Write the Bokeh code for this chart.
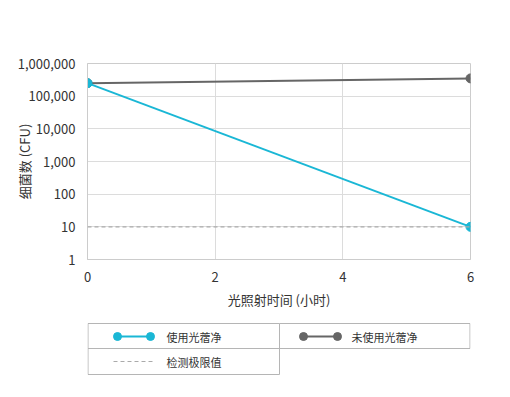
from bokeh.plotting import figure
from bokeh.layouts import column
from bokeh.models import Range1d, FixedTicker, NumeralTickFormatter, Span, ColumnDataSource
from bokeh.embed import file_html
from bokeh.resources import INLINE
from bokeh.core.properties import value

# ---- data ----
hours = [0, 6]
with_light = [250000, 10]
without_light = [250000, 350000]
detection_limit = 10
x_ticks = [0, 2, 4, 6]
y_ticks = [1, 10, 100, 1000, 10000, 100000, 1000000]
series_names = ["使用光蓿净", "未使用光蓿净", "检测极限值"]
x_title = "光照射时间 (小时)"
y_title = "细菌数 (CFU)"

FONT = "Noto Sans CJK SC"
CYAN = "#1ab7d5"
GRAY = "#666666"
GRID = "#dcdcdc"
TEXT = "#333333"

p = figure(width=510, height=320, y_axis_type="log",
           x_range=Range1d(0, 6), y_range=Range1d(1, 1e6),
           output_backend="svg", toolbar_location=None,
           min_border_left=87, min_border_right=40,
           min_border_top=63, min_border_bottom=61)
p.outline_line_color = "#cccccc"
p.background_fill_color = "white"
p.border_fill_color = "white"

p.xaxis.ticker = FixedTicker(ticks=x_ticks)
p.yaxis.ticker = FixedTicker(ticks=y_ticks)
p.yaxis.formatter = NumeralTickFormatter(format="0,0")
for ax in (p.xaxis[0], p.yaxis[0]):
    ax.major_tick_line_color = None
    ax.minor_tick_line_color = None
    ax.axis_line_color = "#cccccc"
    ax.major_label_text_font = FONT
    ax.major_label_text_font_size = "13px"
    ax.major_label_text_color = TEXT
    ax.axis_label_text_font = FONT
    ax.axis_label_text_font_size = "13px"
    ax.axis_label_text_font_style = "normal"
    ax.axis_label_text_color = TEXT
p.xaxis.major_label_standoff = 6
p.yaxis.major_label_standoff = 6
p.xaxis.axis_label = x_title
p.xaxis.axis_label_standoff = 5
p.yaxis.axis_label = y_title
p.yaxis.axis_label_standoff = -19
p.xgrid.grid_line_color = GRID
p.ygrid.grid_line_color = GRID
p.xgrid.ticker = FixedTicker(ticks=x_ticks)
p.ygrid.ticker = FixedTicker(ticks=y_ticks)

p.add_layout(Span(location=detection_limit, dimension="width",
                  line_color="#aaaaaa", line_dash="4 3", line_width=1.2))

src_b = ColumnDataSource(dict(x=hours, y=without_light))
src_a = ColumnDataSource(dict(x=hours, y=with_light))
p.line("x", "y", source=src_b, line_color=GRAY, line_width=2)
p.scatter("x", "y", source=src_b, size=9, fill_color=GRAY, line_color=GRAY)
p.line("x", "y", source=src_a, line_color=CYAN, line_width=2)
p.scatter("x", "y", source=src_a, size=9, fill_color=CYAN, line_color=CYAN)

# ---- legend panel (page pixel coordinates; frame aligned with main plot) ----
leg = figure(width=510, height=77, x_range=Range1d(87, 470), y_range=Range1d(397, 320),
             output_backend="svg", toolbar_location=None,
             min_border_left=87, min_border_right=40, min_border_top=0, min_border_bottom=0)
leg.axis.visible = False
leg.grid.visible = False
leg.outline_line_color = None
leg.border_fill_color = "white"
leg.background_fill_color = "white"
BORDER = "#b5b5b5"
leg.multi_line(xs=[[87.5, 279, 279, 87.5, 87.5], [279, 469.5, 469.5, 279], [87.5, 279]],
               ys=[[323, 323, 374, 374, 323], [323, 323, 348, 348], [348, 348]],
               line_color=BORDER, line_width=1)
leg.line([117, 150], [336, 336], line_color=CYAN, line_width=2)
leg.scatter([117, 150], [336, 336], size=8, fill_color=CYAN, line_color=CYAN)
leg.line([303, 337], [336, 336], line_color=GRAY, line_width=2)
leg.scatter([303, 337], [336, 336], size=8, fill_color=GRAY, line_color=GRAY)
leg.line([113, 153], [361, 361], line_color="#aaaaaa", line_width=1.2, line_dash="4 3")
leg.text([166, 351, 166], [336, 336, 361], text=series_names,
         text_font=value(FONT), text_font_size="11px", text_color=TEXT,
         text_baseline="middle", text_align="left")

layout = column(p, leg, spacing=0)
open("out.html", "w").write(file_html(layout, INLINE))
